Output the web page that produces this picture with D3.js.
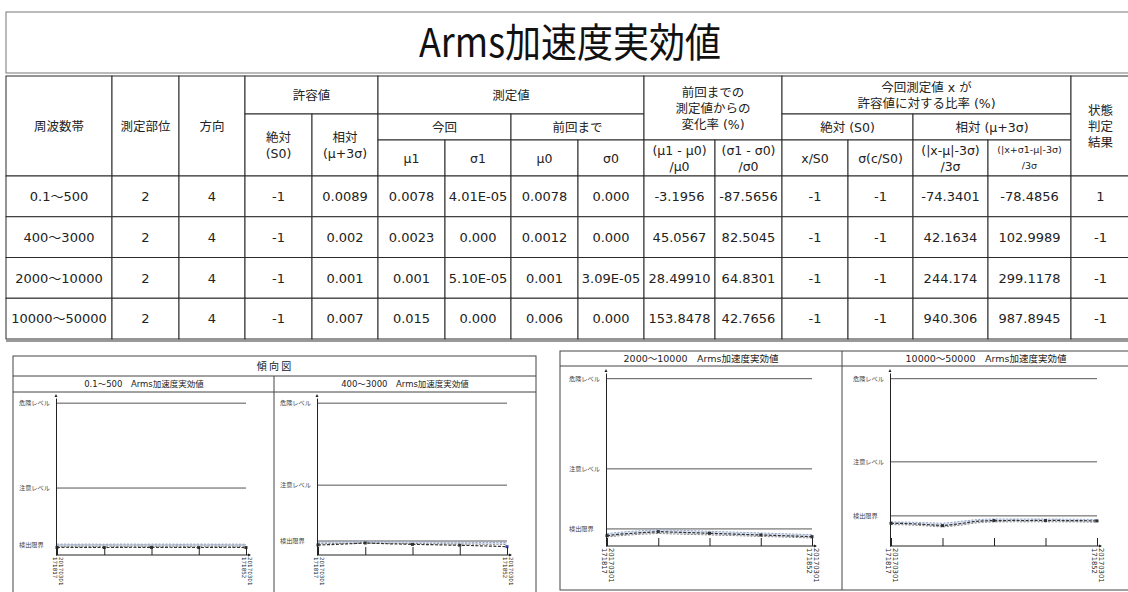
<!DOCTYPE html>
<html><head><meta charset="utf-8">
<script src="https://cdn.jsdelivr.net/npm/d3@7"></script>
<style>
body{margin:0;background:#fff;overflow:hidden;}
svg{display:block;font-family:"DejaVu Sans","Noto Sans CJK JP",sans-serif;}
</style></head><body>
<svg id="c" width="1128" height="592"></svg>
<script>
// ---------- DATA ----------
const mainTitle = "Arms加速度実効値";
const bands = ["0.1～500","400～3000","2000～10000","10000～50000"];
const parts = ["2","2","2","2"];
const dirs = ["4","4","4","4"];
const absAllow = ["-1","-1","-1","-1"];
const relAllow = ["0.0089","0.002","0.001","0.007"];
const mu1 = ["0.0078","0.0023","0.001","0.015"];
const sigma1 = ["4.01E-05","0.000","5.10E-05","0.000"];
const mu0 = ["0.0078","0.0012","0.001","0.006"];
const sigma0 = ["0.000","0.000","3.09E-05","0.000"];
const changeMu = ["-3.1956","45.0567","28.49910","153.8478"];
const changeSigma = ["-87.5656","82.5045","64.8301","42.7656"];
const ratioXS0 = ["-1","-1","-1","-1"];
const ratioSigmaS0 = ["-1","-1","-1","-1"];
const ratioRelA = ["-74.3401","42.1634","244.174","940.306"];
const ratioRelB = ["-78.4856","102.9989","299.1178","987.8945"];
const status = ["1","-1","-1","-1"];

const trendHeader = "傾 向 図";
const chartTitles = ["0.1～500　Arms加速度実効値","400～3000　Arms加速度実効値","2000～10000　Arms加速度実効値","10000～50000　Arms加速度実効値"];
const levelNames = ["危険レベル","注意レベル","検出限界"];
const dangerLevel = [100,100,100,100];
const cautionLevel = [44.1,46.0,46.1,50.3];
const detectLimit = [6.6,9.2,10.2,18.0];
const dateFirst = ["20170301","171817"];
const dateLast = ["20170301","171852"];

const mean1 = [5.0,5.1,5.0,5.0,5.1,4.9,5.0,5.0,5.1,5.0,5.0,5.0,5.1,5.0,5.0,4.9,5.0,5.0,5.1,5.0,4.9];
const upper1 = [7.2,7.2,7.1,7.2,7.2,7.1,7.2,7.2,7.2,7.1,7.2,7.2,7.2,7.1,7.2,7.2,7.2,7.1,7.2,7.2,7.1];
const lower1 = [5.8,5.7,5.8,5.8,5.7,5.8,5.8,5.7,5.8,5.8,5.8,5.7,5.8,5.8,5.7,5.8,5.8,5.7,5.8,5.8,5.7];
const mean2 = [6.6,6.8,7.0,7.3,7.6,7.9,7.7,7.5,7.3,7.2,7.0,6.9,6.8,6.7,6.5,6.4,6.3,6.1,5.9,5.7,5.5];
const upper2 = [8.5,8.6,8.7,8.8,8.9,9.0,8.9,8.8,8.8,8.7,8.7,8.6,8.6,8.5,8.5,8.4,8.4,8.3,8.3,8.2,8.2];
const lower2 = [7.4,7.5,7.6,7.7,7.8,7.9,7.8,7.8,7.7,7.6,7.6,7.5,7.4,7.4,7.3,7.2,7.2,7.1,7.0,7.0,6.9];
const mean3 = [6.2,6.9,7.4,7.8,8.2,8.6,8.4,8.2,8.0,7.8,7.6,7.4,7.2,7.0,6.8,6.6,6.4,6.2,6.0,5.8,5.6];
const upper3 = [7.4,8.1,8.6,9.0,9.4,9.8,9.6,9.4,9.2,9.0,8.8,8.6,8.4,8.2,8.0,7.8,7.6,7.4,7.2,7.0,6.8];
const lower3 = [5.4,6.0,6.5,6.9,7.2,7.5,7.3,7.1,6.9,6.8,6.6,6.4,6.3,6.1,5.9,5.7,5.6,5.4,5.2,5.0,4.8];
const mean4 = [13.6,13.5,13.3,13.0,12.6,12.2,12.8,13.6,14.6,15.0,15.2,15.2,15.3,15.2,15.3,15.2,15.3,15.2,15.2,15.1,15.0];
const upper4 = [14.4,14.3,14.2,14.0,13.8,13.6,14.2,14.9,15.6,16.0,16.2,16.1,16.2,16.1,16.2,16.1,16.1,16.0,16.0,15.9,15.8];
const lower4 = [12.8,12.7,12.5,12.2,11.8,11.4,11.9,12.6,13.6,14.2,14.4,14.4,14.5,14.4,14.5,14.4,14.5,14.4,14.4,14.3,14.2];

// ---------- DRAW ----------
const svg = d3.select("#c");
const ink = "#2b2b2b";
const CJK = '"Noto Sans CJK JP","DejaVu Sans",sans-serif';

svg.append("rect").attr("x",6).attr("y",12).attr("width",1130).attr("height",61)
  .attr("fill","none").attr("stroke","#777").attr("stroke-width",1);
svg.append("text").attr("x",570).attr("y",57).attr("text-anchor","middle")
  .attr("font-family",CJK).attr("font-size",40).attr("fill","#111")
  .attr("transform","translate(570,0) scale(0.9,1) translate(-570,0)")
  .text(mainTitle);

const colEdges = [6,112,179,245,312,378,445,511,578,644,715,782,848,913,988,1071,1130];
const hY = [76,114,140,176];
const rowScale = d3.scaleBand().domain(bands).range([176,339]);
const dataCols = [bands,parts,dirs,absAllow,relAllow,mu1,sigma1,mu0,sigma0,changeMu,changeSigma,ratioXS0,ratioSigmaS0,ratioRelA,ratioRelB,status];

const headerCells = [
  [0,1,0,3,["周波数帯"]],[1,2,0,3,["測定部位"]],[2,3,0,3,["方向"]],
  [3,5,0,1,["許容値"]],[3,4,1,3,["絶対","(S0)"]],[4,5,1,3,["相対","(μ+3σ)"]],
  [5,9,0,1,["測定値"]],[5,7,1,2,["今回"]],[7,9,1,2,["前回まで"]],
  [5,6,2,3,["μ1"]],[6,7,2,3,["σ1"]],[7,8,2,3,["μ0"]],[8,9,2,3,["σ0"]],
  [9,11,0,2,["前回までの","測定値からの","変化率 (%)"]],
  [9,10,2,3,["(μ1 - μ0)","/μ0"]],[10,11,2,3,["(σ1 - σ0)","/σ0"]],
  [11,15,0,1,["今回測定値 x が","許容値に対する比率 (%)"]],
  [11,13,1,2,["絶対 (S0)"]],[13,15,1,2,["相対 (μ+3σ)"]],
  [11,12,2,3,["x/S0"]],[12,13,2,3,["σ(c/S0)"]],
  [13,14,2,3,["(|x-μ|-3σ)","/3σ"]],[14,15,2,3,["(|x+σ1-μ|-3σ)","/3σ"],9.5],
  [15,16,0,3,["状態","判定","結果"]]
];
const tbl = svg.append("g");
headerCells.forEach(c=>{
  const x0=colEdges[c[0]], x1=colEdges[c[1]], y0=hY[c[2]], y1=hY[c[3]];
  tbl.append("rect").attr("x",x0).attr("y",y0).attr("width",x1-x0).attr("height",y1-y0)
    .attr("fill","#fff").attr("stroke",ink).attr("stroke-width",1);
  const fs = c[5]||12.5, lh = 16, n=c[4].length;
  c[4].forEach((t,i)=>{
    tbl.append("text").attr("x",(x0+x1)/2).attr("y",(y0+y1)/2+(i-(n-1)/2)*lh)
      .attr("dy","0.36em").attr("text-anchor","middle").attr("font-size",fs).attr("fill","#222").text(t);
  });
});
bands.forEach((b,r)=>{
  dataCols.forEach((col,ci)=>{
    const x0=colEdges[ci], x1=colEdges[ci+1], y0=rowScale(b), h=rowScale.bandwidth();
    tbl.append("rect").attr("x",x0).attr("y",y0).attr("width",x1-x0).attr("height",h)
      .attr("fill","#fff").attr("stroke",ink).attr("stroke-width",1);
    tbl.append("text").attr("x",(x0+x1)/2).attr("y",y0+h/2).attr("dy","0.36em")
      .attr("text-anchor","middle").attr("font-size",13).attr("fill","#222").text(col[r]);
  });
});
svg.append("line").attr("x1",6).attr("x2",1130).attr("y1",341).attr("y2",341).attr("stroke","#777").attr("stroke-width",1.5);

const panelStroke = "#444";
const lp = svg.append("g");
lp.append("rect").attr("x",13).attr("y",356).attr("width",523).attr("height",260).attr("fill","none").attr("stroke",panelStroke);
lp.append("line").attr("x1",13).attr("x2",536).attr("y1",376).attr("y2",376).attr("stroke",panelStroke);
lp.append("line").attr("x1",13).attr("x2",536).attr("y1",392).attr("y2",392).attr("stroke",panelStroke);
lp.append("line").attr("x1",274).attr("x2",274).attr("y1",376).attr("y2",600).attr("stroke",panelStroke);
lp.append("text").attr("x",274).attr("y",366).attr("dy","0.36em").attr("text-anchor","middle")
  .attr("font-family",CJK).attr("font-size",10).attr("fill","#222").text(trendHeader);
const rp = svg.append("g");
rp.append("rect").attr("x",560).attr("y",351).attr("width",580).attr("height",239).attr("fill","none").attr("stroke",panelStroke);
rp.append("line").attr("x1",560).attr("x2",1130).attr("y1",366).attr("y2",366).attr("stroke",panelStroke);
rp.append("line").attr("x1",842).attr("x2",842).attr("y1",351).attr("y2",590).attr("stroke",panelStroke);

const layouts = [
  {tx:144,ty:384,fs:8.5,ax:56,x0:57,x1:246,yTop:398,yBot:555,dfs:5.6},
  {tx:405,ty:384,fs:8.5,ax:317,x0:318,x1:507,yTop:398,yBot:555,dfs:5.6},
  {tx:701,ty:358.5,fs:9.5,ax:606,x0:607,x1:812,yTop:373,yBot:546,dfs:6.8},
  {tx:986,ty:358.5,fs:9.5,ax:890,x0:891,x1:1097,yTop:373,yBot:546,dfs:6.8}
];
const means=[mean1,mean2,mean3,mean4], uppers=[upper1,upper2,upper3,upper4], lowers=[lower1,lower2,lower3,lower4];

layouts.forEach((L,k)=>{
  const g = svg.append("g");
  g.append("text").attr("x",L.tx).attr("y",L.ty).attr("dy","0.36em").attr("text-anchor","middle")
    .attr("font-size",L.fs).attr("fill","#222").text(chartTitles[k]);
  const n = means[k].length;
  const x = d3.scaleLinear().domain([0,n-1]).range([L.x0,L.x1]);
  const y = d3.scaleLinear().domain([0,103.4]).range([L.yBot,L.yTop]);
  const levels=[dangerLevel[k],cautionLevel[k],detectLimit[k]];
  levels.forEach((v,i)=>{
    g.append("line").attr("x1",L.ax).attr("x2",L.x1).attr("y1",y(v)).attr("y2",y(v))
      .attr("stroke","#555").attr("stroke-width",1);
    g.append("text").attr("x",L.ax-37).attr("y",y(v)).attr("dy","0.35em")
      .attr("font-family",CJK).attr("font-size",6.2).attr("fill","#444").text(levelNames[i]);
  });
  const idx = d3.range(n);
  g.append("path").datum(idx).attr("fill","#d3dbeb").attr("opacity",0.8)
    .attr("d",d3.area().x(i=>x(i)).y0(i=>y(lowers[k][i])).y1(i=>y(uppers[k][i])));
  g.append("path").datum(idx).attr("fill","none").attr("stroke","#8fa3c9").attr("stroke-width",1).attr("stroke-dasharray","2,1.5")
    .attr("d",d3.line().x(i=>x(i)).y(i=>y(uppers[k][i])));
  g.append("path").datum(idx).attr("fill","none").attr("stroke","#888").attr("stroke-width",1).attr("stroke-dasharray","2,1.5")
    .attr("d",d3.line().x(i=>x(i)).y(i=>y(lowers[k][i])));
  g.append("path").datum(idx).attr("fill","none").attr("stroke","#333").attr("stroke-width",1.2).attr("stroke-dasharray","3,1.5")
    .attr("d",d3.line().x(i=>x(i)).y(i=>y(means[k][i])));
  g.selectAll("rect.mk").data(idx.filter(i=>i%5===0)).join("rect").attr("class","mk")
    .attr("x",i=>x(i)-1.5).attr("y",i=>y(means[k][i])-1.5).attr("width",3).attr("height",3)
    .attr("fill",i=>i===n-1&&k===1?"#3a4aa0":"#333");
  const xa = g.append("g").attr("transform",`translate(0,${L.yBot})`)
    .call(d3.axisBottom(x).tickValues([0,5,10,15,20]).tickSizeInner(-8).tickSizeOuter(0).tickFormat(""));
  xa.select(".domain").attr("d",`M${L.ax},0H${L.x1+4}`).attr("stroke","#222");
  xa.selectAll(".tick line").attr("stroke","#222");
  g.append("path").attr("d",`M${L.x1+5},${L.yBot}l-3,-1.5v3z`).attr("fill","#222");
  const ya = g.append("g").attr("transform",`translate(${L.ax},0)`)
    .call(d3.axisLeft(y).tickValues([]).tickSizeOuter(0));
  ya.select(".domain").attr("stroke","#222");
  g.append("path").attr("d",`M${L.ax},${L.yTop-4}l-1.5,3h3z`).attr("fill","#222");
  [[0,dateFirst],[n-1,dateLast]].forEach(([i,lab])=>{
    const t = g.append("text").attr("font-size",L.dfs).attr("fill","#222")
      .attr("transform",`translate(${x(i)+2},${L.yBot+2}) rotate(90)`);
    lab.forEach((s,j)=>t.append("tspan").attr("x",0).attr("y",j*L.dfs).text(s));
  });
});
</script>
</body></html>
